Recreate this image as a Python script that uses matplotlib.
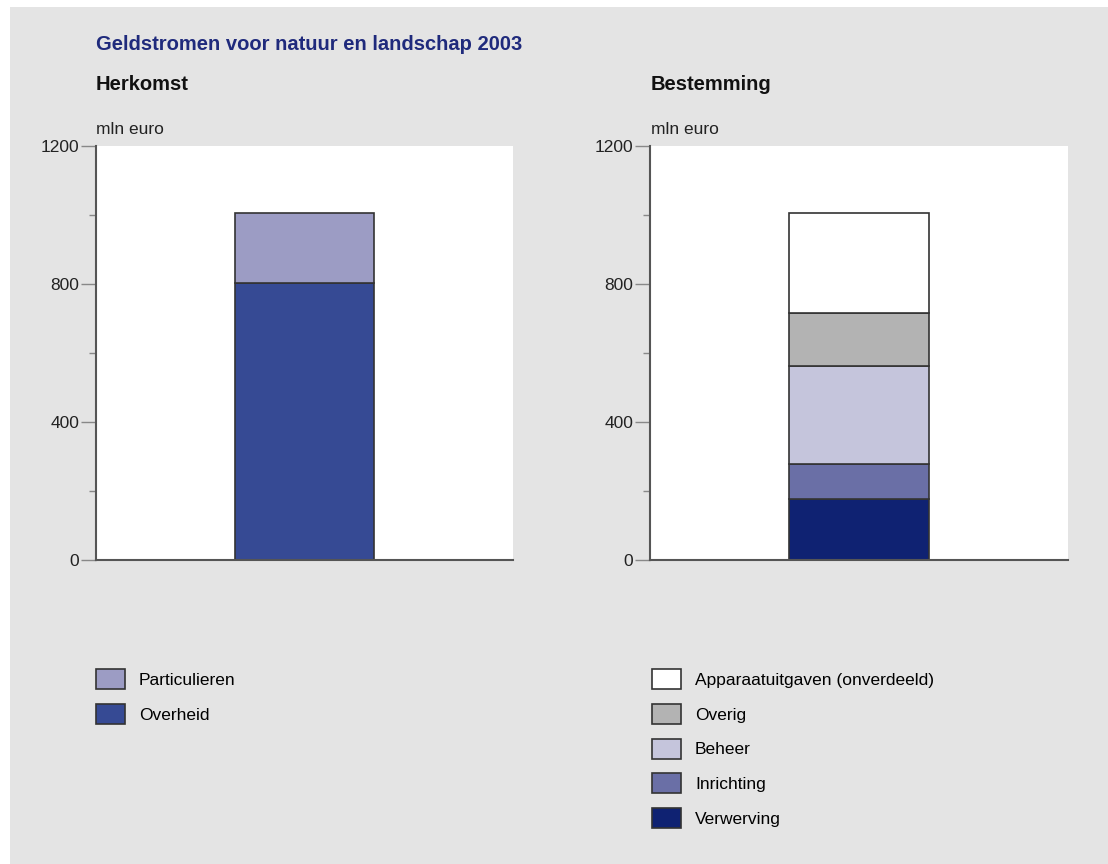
import matplotlib.pyplot as plt
from matplotlib.patches import Rectangle

plt.rcParams['font.family'] = ['Liberation Sans', 'DejaVu Sans']

# herkomst (origin of funds), mln euro, stacked bottom to top
herkomst_labels = ['Overheid', 'Particulieren']
herkomst_values = [803, 203]
herkomst_colors = ['#364a94', '#9c9cc4']

# bestemming (destination), mln euro, stacked bottom to top
bestemming_labels = ['Verwerving', 'Inrichting', 'Beheer', 'Overig',
                     'Apparaatuitgaven (onverdeeld)']
bestemming_values = [176, 102, 284, 155, 288]
bestemming_colors = ['#0f2272', '#6a6fa6', '#c5c5dc', '#b3b3b3', '#ffffff']

yticks = [0, 400, 800, 1200]
yminor = [200, 600, 1000]

W, H = 1108, 864
fig = plt.figure(figsize=(W / 100, H / 100), dpi=100, facecolor='white')
fig.patches.append(Rectangle((10 / W, 0), 1, 1 - 7 / H, transform=fig.transFigure,
                             facecolor='#e4e4e4', edgecolor='none', zorder=-10))


def fx(px):
    return px / W


def fy(py):
    return 1 - py / H


def stacked(ax, labels, values, colors):
    bottom = 0
    handles = []
    for lab, val, col in zip(labels, values, colors):
        b = ax.bar(0, val, width=1, bottom=bottom, color=col, edgecolor='#333333',
                   linewidth=1.2, label=lab)
        handles.append(b)
        bottom += val
    ax.set_xlim(-1.5, 1.5)
    ax.set_ylim(0, 1200)
    ax.set_facecolor('white')
    for s in ['top', 'right']:
        ax.spines[s].set_visible(False)
    for s in ['left', 'bottom']:
        ax.spines[s].set_color('#555555')
        ax.spines[s].set_linewidth(1.5)
    ax.set_xticks([])
    ax.set_yticks(yticks)
    ax.set_yticks(yminor, minor=True)
    ax.tick_params(axis='y', which='major', length=11, width=1, color='#888888',
                   labelsize=12.5, pad=1, labelcolor='#222222')
    ax.tick_params(axis='y', which='minor', length=5, width=1, color='#888888')
    return handles


ax1 = fig.add_axes([fx(96), fy(560), fx(513 - 96), (560 - 146) / H])
ax2 = fig.add_axes([fx(650), fy(560), fx(1068 - 650), (560 - 146) / H])

h1 = stacked(ax1, herkomst_labels, herkomst_values, herkomst_colors)
h2 = stacked(ax2, bestemming_labels, bestemming_values, bestemming_colors)

fig.text(fx(96), fy(45), 'Geldstromen voor natuur en landschap 2003', color='#1f2a7c',
         fontsize=14.5, fontweight='bold', va='center', ha='left')
fig.text(fx(96), fy(85), 'Herkomst', fontsize=14.5, fontweight='bold', va='center', color='#111111')
fig.text(fx(651), fy(85), 'Bestemming', fontsize=14.5, fontweight='bold', va='center', color='#111111')
fig.text(fx(96), fy(129), 'mln euro', fontsize=12.5, va='center', color='#222222')
fig.text(fx(651), fy(129), 'mln euro', fontsize=12.5, va='center', color='#222222')

leg_kw = dict(loc='upper left', frameon=False, fontsize=12.5, handlelength=1.67,
              handleheight=1.4, labelspacing=0.85, handletextpad=0.8,
              borderpad=0, borderaxespad=0)
fig.legend(h1[::-1], herkomst_labels[::-1], bbox_to_anchor=(fx(96), fy(669)), **leg_kw)
fig.legend(h2[::-1], bestemming_labels[::-1], bbox_to_anchor=(fx(652), fy(669)), **leg_kw)

fig.savefig('out.png', dpi=100, facecolor=fig.get_facecolor())
